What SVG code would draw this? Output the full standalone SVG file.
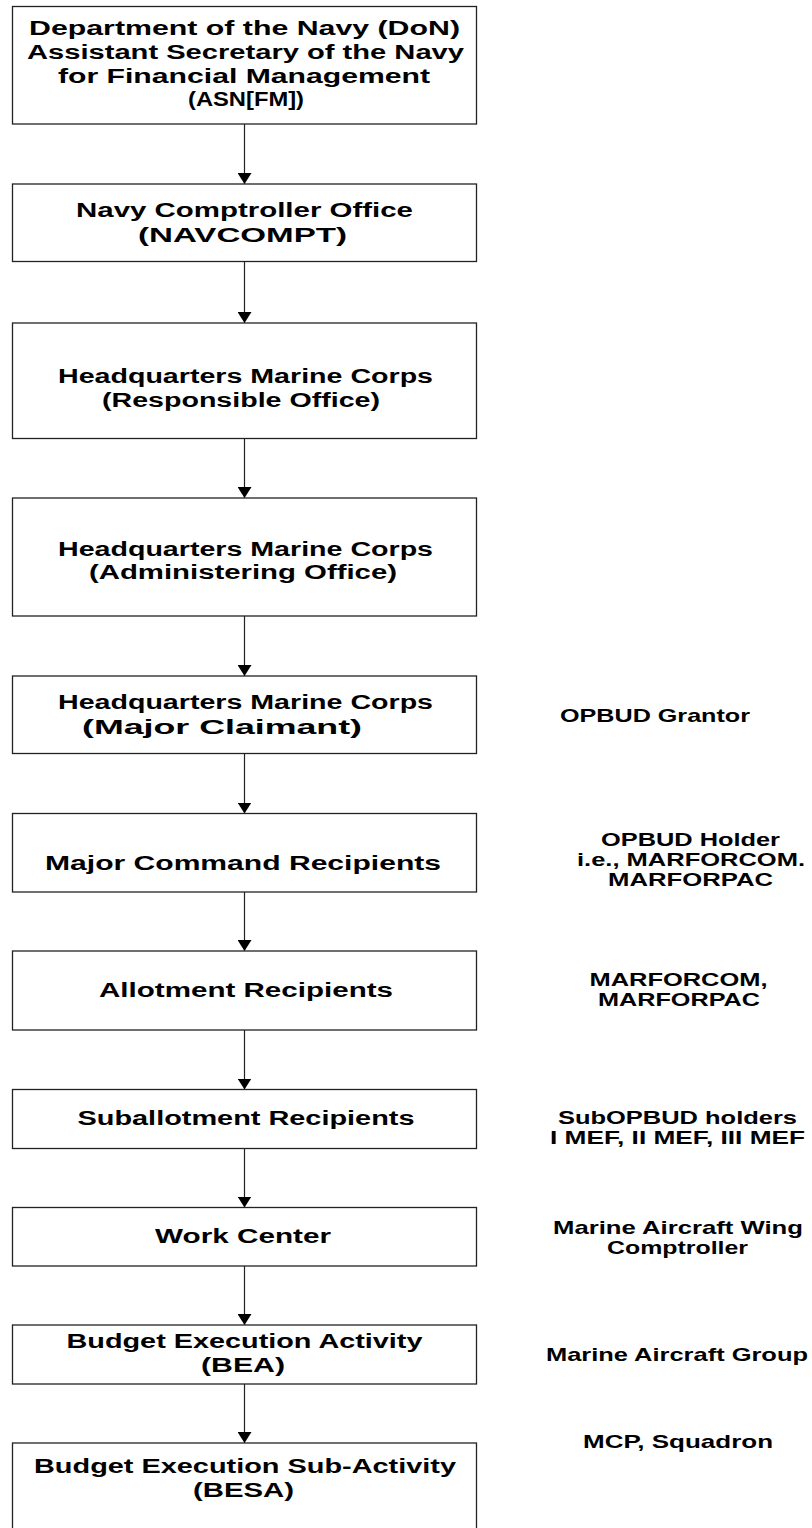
<svg xmlns="http://www.w3.org/2000/svg" width="812" height="1528" viewBox="0 0 812 1528">
<style>
.box{fill:#fff;stroke:#222;stroke-width:1.3}
.t{font-family:"Liberation Sans",Arial,sans-serif;font-weight:bold;font-size:20px;fill:#000;text-anchor:middle}
.r{font-family:"Liberation Sans",Arial,sans-serif;font-weight:bold;font-size:19px;fill:#000;text-anchor:middle}
.c{stroke:#222;stroke-width:1.2;fill:none;marker-end:url(#ah)}
</style>
<defs>
<marker id="ah" markerUnits="userSpaceOnUse" markerWidth="11" markerHeight="14" refX="11" refY="7" orient="auto" viewBox="0 0 11 14">
<path d="M0,0 L11,7 L0,14 Z" fill="#000"/>
</marker>
</defs>
<rect width="812" height="1528" fill="#fff"/>
<g id="connectors">
<line class="c" x1="244.5" y1="124" x2="244.5" y2="184"/>
<line class="c" x1="244.5" y1="262" x2="244.5" y2="323"/>
<line class="c" x1="244.5" y1="438.5" x2="244.5" y2="498"/>
<line class="c" x1="244.5" y1="616" x2="244.5" y2="676"/>
<line class="c" x1="244.5" y1="753.5" x2="244.5" y2="813.5"/>
<line class="c" x1="244.5" y1="892" x2="244.5" y2="951"/>
<line class="c" x1="244.5" y1="1030" x2="244.5" y2="1089.5"/>
<line class="c" x1="244.5" y1="1148.5" x2="244.5" y2="1207.5"/>
<line class="c" x1="244.5" y1="1266" x2="244.5" y2="1325"/>
<line class="c" x1="244.5" y1="1384" x2="244.5" y2="1443"/>
</g>
<g id="n1">
<rect class="box" x="12.5" y="6.5" width="464" height="117.5"/>
<text class="t" x="244.5" y="35" textLength="431" lengthAdjust="spacingAndGlyphs">Department of the Navy (DoN)</text>
<text class="t" x="245.5" y="58.5" textLength="437" lengthAdjust="spacingAndGlyphs">Assistant Secretary of the Navy</text>
<text class="t" x="244" y="82.5" textLength="372" lengthAdjust="spacingAndGlyphs">for Financial Management</text>
<text class="t" x="246" y="105.5" textLength="116" lengthAdjust="spacingAndGlyphs">(ASN[FM])</text>
</g>
<g id="n2">
<rect class="box" x="12.5" y="184" width="464" height="77.5"/>
<text class="t" x="244.5" y="217" textLength="337" lengthAdjust="spacingAndGlyphs">Navy Comptroller Office</text>
<text class="t" x="242.5" y="241.5" textLength="209" lengthAdjust="spacingAndGlyphs">(NAVCOMPT)</text>
</g>
<g id="n3">
<rect class="box" x="12.5" y="323" width="464" height="115.5"/>
<text class="t" x="245.5" y="382.5" textLength="375" lengthAdjust="spacingAndGlyphs">Headquarters Marine Corps</text>
<text class="t" x="241" y="406.5" textLength="278" lengthAdjust="spacingAndGlyphs">(Responsible Office)</text>
</g>
<g id="n4">
<rect class="box" x="12.5" y="498" width="464" height="118"/>
<text class="t" x="245.5" y="555.5" textLength="375" lengthAdjust="spacingAndGlyphs">Headquarters Marine Corps</text>
<text class="t" x="243" y="579" textLength="308" lengthAdjust="spacingAndGlyphs">(Administering Office)</text>
</g>
<g id="n5">
<rect class="box" x="12.5" y="676" width="464" height="77.5"/>
<text class="t" x="245.5" y="709" textLength="375" lengthAdjust="spacingAndGlyphs">Headquarters Marine Corps</text>
<text class="t" x="222" y="733.5" textLength="280" lengthAdjust="spacingAndGlyphs">(Major Claimant)</text>
</g>
<g id="n6">
<rect class="box" x="12.5" y="813.5" width="464" height="78.5"/>
<text class="t" x="243" y="870" textLength="396" lengthAdjust="spacingAndGlyphs">Major Command Recipients</text>
</g>
<g id="n7">
<rect class="box" x="12.5" y="951" width="464" height="79"/>
<text class="t" x="246" y="996.5" textLength="294" lengthAdjust="spacingAndGlyphs">Allotment Recipients</text>
</g>
<g id="n8">
<rect class="box" x="12.5" y="1089.5" width="464" height="59"/>
<text class="t" x="246" y="1125" textLength="337" lengthAdjust="spacingAndGlyphs">Suballotment Recipients</text>
</g>
<g id="n9">
<rect class="box" x="12.5" y="1207.5" width="464" height="58.5"/>
<text class="t" x="243" y="1243" textLength="176" lengthAdjust="spacingAndGlyphs">Work Center</text>
</g>
<g id="n10">
<rect class="box" x="12.5" y="1325" width="464" height="59"/>
<text class="t" x="244.5" y="1348" textLength="356" lengthAdjust="spacingAndGlyphs">Budget Execution Activity</text>
<text class="t" x="243" y="1372" textLength="84" lengthAdjust="spacingAndGlyphs">(BEA)</text>
</g>
<g id="n11">
<rect class="box" x="12.5" y="1443" width="464" height="100"/>
<text class="t" x="245" y="1473" textLength="422" lengthAdjust="spacingAndGlyphs">Budget Execution Sub-Activity</text>
<text class="t" x="243.5" y="1497" textLength="101" lengthAdjust="spacingAndGlyphs">(BESA)</text>
</g>
<g id="labels">
<text class="r" x="655" y="721.5" textLength="190" lengthAdjust="spacingAndGlyphs">OPBUD Grantor</text>
<text class="r" x="690.5" y="845.5" textLength="179" lengthAdjust="spacingAndGlyphs">OPBUD Holder</text>
<text class="r" x="691" y="865.5" textLength="228" lengthAdjust="spacingAndGlyphs">i.e., MARFORCOM.</text>
<text class="r" x="690.5" y="885.5" textLength="165" lengthAdjust="spacingAndGlyphs">MARFORPAC</text>
<text class="r" x="678.5" y="985.5" textLength="178" lengthAdjust="spacingAndGlyphs">MARFORCOM,</text>
<text class="r" x="679" y="1006" textLength="162" lengthAdjust="spacingAndGlyphs">MARFORPAC</text>
<text class="r" x="677.5" y="1123.5" textLength="239" lengthAdjust="spacingAndGlyphs">SubOPBUD holders</text>
<text class="r" x="677.5" y="1143.5" textLength="255" lengthAdjust="spacingAndGlyphs">I MEF, II MEF, III MEF</text>
<text class="r" x="678" y="1234" textLength="250" lengthAdjust="spacingAndGlyphs">Marine Aircraft Wing</text>
<text class="r" x="677.5" y="1254" textLength="141" lengthAdjust="spacingAndGlyphs">Comptroller</text>
<text class="r" x="677" y="1360.5" textLength="262" lengthAdjust="spacingAndGlyphs">Marine Aircraft Group</text>
<text class="r" x="678" y="1448" textLength="190" lengthAdjust="spacingAndGlyphs">MCP, Squadron</text>
</g>
</svg>
